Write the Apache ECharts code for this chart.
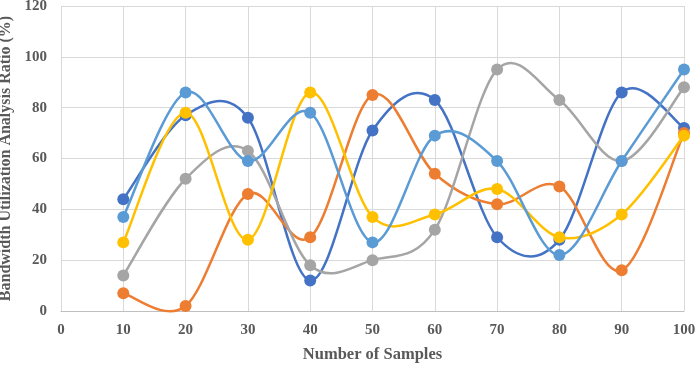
<!DOCTYPE html>
<html><head><meta charset="utf-8">
<script src="https://cdn.jsdelivr.net/npm/echarts@6/dist/echarts.min.js"></script>
<style>html,body{margin:0;padding:0;background:#fff}#c{width:697px;height:365px}</style>
</head><body><div id="c"></div>
<script>
const samples = [10,20,30,40,50,60,70,80,90,100];
const seriesDarkBlue = [44,77,76,12,71,83,29,28,86,72];
const seriesOrange = [7,2,46,29,85,54,42,49,16,70];
const seriesGray = [14,52,63,18,20,32,95,83,59,88];
const seriesYellow = [27,78,28,86,37,38,48,29,38,69];
const seriesLightBlue = [37,86,59,78,27,69,59,22,59,95];
const xTicks = {min:0, max:100, step:10};
const yTicks = {min:0, max:120, step:20};

const defs = [
  {name:'S1', data:seriesDarkBlue, color:'#4472C4'},
  {name:'S2', data:seriesOrange, color:'#ED7D31'},
  {name:'S3', data:seriesGray, color:'#A5A5A5'},
  {name:'S4', data:seriesYellow, color:'#FFC000'},
  {name:'S5', data:seriesLightBlue, color:'#5B9BD5'}
];
const font = '"Liberation Serif", "Times New Roman", serif';

// Smooth curve (Catmull-Rom style, like spreadsheet smoothed lines) drawn in pixel space via axis scales
function curveRenderer(values, color){
  return function(params, api){
    if (params.dataIndex !== 0) return null;
    const pts = samples.map((x,i)=>api.coord([x, values[i]]));
    const n = pts.length;
    let d = 'M' + pts[0][0] + ' ' + pts[0][1];
    for (let i=0;i<n-1;i++){
      const p0 = pts[Math.max(i-1,0)], p1 = pts[i], p2 = pts[i+1], p3 = pts[Math.min(i+2,n-1)];
      const c1x = p1[0] + (p2[0]-p0[0])/6, c1y = p1[1] + (p2[1]-p0[1])/6;
      const c2x = p2[0] - (p3[0]-p1[0])/6, c2y = p2[1] - (p3[1]-p1[1])/6;
      d += ' C' + c1x + ' ' + c1y + ' ' + c2x + ' ' + c2y + ' ' + p2[0] + ' ' + p2[1];
    }
    return {type:'path', shape:{pathData:d}, style:{stroke:color, lineWidth:2.5, fill:null}, silent:true};
  };
}

const series = [];
defs.forEach((d, k)=>{
  const data = samples.map((x,i)=>[x, d.data[i]]);
  series.push({type:'custom', name:d.name, data:data, renderItem:curveRenderer(d.data, d.color),
    encode:{x:0,y:1}, clip:false, z:2+k*2});
  series.push({type:'scatter', name:d.name, data:data, symbol:'circle', symbolSize:12,
    itemStyle:{color:d.color, opacity:1}, z:3+k*2});
});

const chart = echarts.init(document.getElementById('c'));
chart.setOption({
  animation:false,
  grid:{left:61, right:13, top:6, bottom:54, outerBoundsMode:'none', containLabel:false},
  xAxis:{type:'value', min:xTicks.min, max:xTicks.max, interval:xTicks.step,
    name:'Number of Samples', nameLocation:'middle', nameGap:35,
    nameTextStyle:{fontFamily:font, fontWeight:'bold', fontSize:16.5, color:'#595959'},
    axisLine:{show:true, lineStyle:{color:'#bfbfbf'}}, axisTick:{show:false},
    axisLabel:{fontFamily:font, fontWeight:'bold', fontSize:15, color:'#595959', margin:12},
    splitLine:{show:true, lineStyle:{color:'#d9d9d9'}}},
  yAxis:{type:'value', min:yTicks.min, max:yTicks.max, interval:yTicks.step,
    name:'Bandwidth Utilization Analysis Ratio (%)', nameLocation:'middle', nameGap:39,
    nameTextStyle:{fontFamily:font, fontWeight:'bold', fontSize:16, color:'#595959'},
    axisLine:{show:false}, axisTick:{show:false},
    axisLabel:{fontFamily:font, fontWeight:'bold', fontSize:15, color:'#595959', margin:14},
    splitLine:{show:true, lineStyle:{color:'#d9d9d9'}}},
  series: series
});
</script></body></html>
